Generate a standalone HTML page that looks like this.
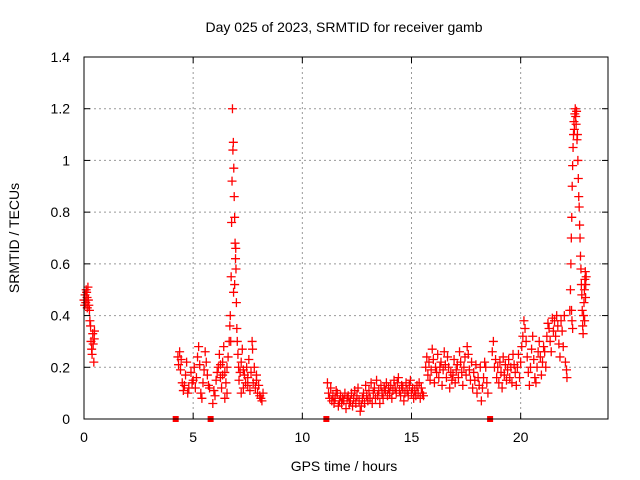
<!DOCTYPE html>
<html><head><meta charset="utf-8"><style>
body{margin:0;background:#fff}
svg{display:block;font-family:"Liberation Sans",sans-serif}
</style></head><body>
<svg id="chart" width="640" height="480" viewBox="0 0 640 480">
<text x="344" y="32" font-size="14" text-anchor="middle">Day 025 of 2023, SRMTID for receiver gamb</text>
<text transform="translate(19,238) rotate(-90)" font-size="14" text-anchor="middle">SRMTID / TECUs</text>
<text x="344" y="471" font-size="14" text-anchor="middle">GPS time / hours</text>
<g id="grid"></g><g id="ticks"></g><g id="marks"></g>
<rect x="84" y="57" width="524" height="362" fill="none" stroke="#000" stroke-width="1"/>
</svg>
<script>
const xTicks=[0,5,10,15,20];
const yTicks=[0,0.2,0.4,0.6,0.8,1,1.2,1.4];
const yTickLabels=["0","0.2","0.4","0.6","0.8","1","1.2","1.4"];
const gapTimes=[4.2,5.8,11.1,18.6];
// [hours, TECU] pairs per pass segment
const segA=[[0,0.46],[0.03,0.44],[0.05,0.48],[0.08,0.45],[0.1,0.5],[0.12,0.49],[0.14,0.47],[0.15,0.43],[0.18,0.51],[0.2,0.46],[0.22,0.44],[0.25,0.42],[0.27,0.38],[0.3,0.36],[0.32,0.3],[0.35,0.27],[0.37,0.25],[0.4,0.33],[0.42,0.29],[0.45,0.22],[0.47,0.31],[0.48,0.34]];
const segB=[[4.3,0.24],[4.33,0.21],[4.38,0.26],[4.42,0.19],[4.45,0.23],[4.5,0.14],[4.55,0.11],[4.6,0.13],[4.65,0.17],[4.7,0.22],[4.75,0.1],[4.8,0.12],[4.9,0.18],[4.95,0.14],[5,0.15],[5.05,0.2],[5.1,0.12],[5.15,0.16],[5.2,0.24],[5.25,0.28],[5.3,0.21],[5.35,0.1],[5.4,0.08],[5.45,0.14],[5.5,0.19],[5.55,0.26],[5.6,0.22],[5.65,0.17],[5.7,0.13],[5.75,0.12],[5.9,0.06],[5.95,0.11],[6,0.09],[6.05,0.15],[6.1,0.18],[6.15,0.2],[6.2,0.25],[6.25,0.16],[6.3,0.12],[6.35,0.22],[6.4,0.28],[6.45,0.18],[6.5,0.14],[6.55,0.1],[6.6,0.24],[6.65,0.3],[6.55,0.2],[6.45,0.08],[6.35,0.17],[6.25,0.21]];
const segSpike=[[6.68,0.36],[6.7,0.4],[6.72,0.3],[6.74,0.55],[6.76,0.76],[6.78,0.92],[6.8,1.2],[6.82,1.04],[6.84,1.07],[6.86,0.97],[6.88,0.86],[6.9,0.78],[6.92,0.68],[6.94,0.62],[6.96,0.58],[6.98,0.45],[7,0.35],[7.02,0.3],[6.95,0.66],[6.9,0.52],[6.85,0.49]];
const segB2=[[7.05,0.25],[7.08,0.2],[7.1,0.15],[7.15,0.18],[7.2,0.22],[7.25,0.27],[7.3,0.12],[7.35,0.17],[7.4,0.14],[7.45,0.2],[7.5,0.16],[7.55,0.23],[7.6,0.11],[7.65,0.18],[7.7,0.3],[7.72,0.27],[7.75,0.14],[7.8,0.2],[7.85,0.12],[7.9,0.17],[7.95,0.1],[8,0.13],[8.05,0.09],[8.1,0.08],[8.15,0.07],[8.2,0.1],[7.3,0.19],[7.5,0.13],[7.9,0.15],[7.2,0.1]];
const segC=[[11.15,0.14],[11.2,0.1],[11.25,0.08],[11.3,0.12],[11.35,0.07],[11.4,0.09],[11.45,0.06],[11.5,0.08],[11.55,0.11],[11.6,0.1],[11.65,0.05],[11.7,0.07],[11.75,0.09],[11.8,0.06],[11.85,0.08],[11.9,0.07],[11.95,0.1],[12,0.04],[12.05,0.08],[12.1,0.09],[12.15,0.06],[12.2,0.07],[12.25,0.1],[12.3,0.05],[12.35,0.08],[12.4,0.11],[12.45,0.06],[12.5,0.09],[12.55,0.12],[12.6,0.07],[12.65,0.03],[12.7,0.05],[12.75,0.08],[12.8,0.1],[12.85,0.06],[12.9,0.13],[12.95,0.09],[13,0.07],[13.05,0.11],[13.1,0.08],[13.15,0.14],[13.2,0.06],[13.25,0.1],[13.3,0.12],[13.35,0.08],[13.4,0.15],[13.45,0.09],[13.5,0.11],[13.55,0.06],[13.6,0.13],[13.65,0.1],[13.7,0.08],[13.75,0.12],[13.8,0.11],[13.85,0.14],[13.9,0.09],[13.95,0.12],[14,0.1],[14.05,0.13],[14.1,0.08],[14.15,0.11],[14.2,0.15],[14.25,0.12],[14.3,0.1],[14.35,0.14],[14.4,0.16],[14.45,0.11],[14.5,0.09],[14.55,0.13],[14.6,0.12],[14.65,0.07],[14.7,0.1],[14.75,0.14],[14.8,0.11],[14.85,0.09],[14.9,0.13],[14.95,0.15],[15,0.1],[15.05,0.12],[15.1,0.08],[15.15,0.11],[15.2,0.09],[15.25,0.13],[15.3,0.1],[15.35,0.14],[15.4,0.08],[15.45,0.12],[15.5,0.1],[15.55,0.09]];
const segD=[[15.65,0.2],[15.7,0.24],[15.75,0.17],[15.8,0.22],[15.85,0.15],[15.9,0.19],[15.95,0.27],[16,0.23],[16.05,0.14],[16.1,0.2],[16.15,0.18],[16.2,0.25],[16.25,0.16],[16.3,0.2],[16.35,0.22],[16.4,0.13],[16.45,0.19],[16.5,0.26],[16.55,0.21],[16.6,0.16],[16.65,0.24],[16.7,0.2],[16.75,0.12],[16.8,0.18],[16.85,0.15],[16.9,0.17],[16.95,0.23],[17,0.14],[17.05,0.19],[17.1,0.21],[17.15,0.16],[17.2,0.26],[17.25,0.22],[17.3,0.18],[17.35,0.13],[17.4,0.2],[17.45,0.24],[17.5,0.17],[17.55,0.28],[17.6,0.25],[17.65,0.19],[17.7,0.15],[17.75,0.22],[17.8,0.12],[17.85,0.18],[17.9,0.15],[17.95,0.21],[18,0.1],[18.05,0.16],[18.1,0.13],[18.15,0.2],[18.2,0.07],[18.25,0.12],[18.3,0.16],[18.35,0.22],[18.4,0.2],[18.45,0.14],[18.5,0.1]];
const segE=[[18.7,0.26],[18.75,0.3],[18.8,0.2],[18.85,0.23],[18.9,0.16],[18.95,0.2],[19,0.14],[19.05,0.22],[19.1,0.18],[19.15,0.12],[19.2,0.24],[19.25,0.17],[19.3,0.21],[19.35,0.15],[19.4,0.19],[19.45,0.23],[19.5,0.16],[19.55,0.2],[19.6,0.14],[19.65,0.25],[19.7,0.21],[19.75,0.18],[19.8,0.13],[19.85,0.2],[19.9,0.25],[19.95,0.16],[20,0.22],[20.05,0.28],[20.1,0.32],[20.15,0.38],[20.2,0.35],[20.25,0.3],[20.3,0.24],[20.35,0.18],[20.4,0.13],[20.45,0.2],[20.5,0.27],[20.55,0.32],[20.6,0.23],[20.65,0.16],[20.7,0.14],[20.75,0.2],[20.8,0.26],[20.85,0.3],[20.9,0.24],[20.95,0.17],[21,0.22],[21.05,0.28],[21.1,0.26],[21.15,0.2],[21.2,0.32],[21.25,0.37],[21.3,0.35],[21.35,0.3],[21.4,0.26],[21.45,0.39],[21.5,0.34],[21.55,0.38],[21.6,0.32],[21.65,0.4],[21.7,0.36],[21.75,0.29],[21.8,0.24],[21.85,0.38],[21.9,0.34],[21.95,0.28],[22,0.4],[22.05,0.22],[22.1,0.19],[22.12,0.16]];
const segF=[[22.25,0.42],[22.28,0.5],[22.3,0.6],[22.32,0.7],[22.34,0.78],[22.36,0.9],[22.38,0.98],[22.4,1.05],[22.42,1.1],[22.44,1.15],[22.46,1.12],[22.48,1.18],[22.5,1.2],[22.52,1.17],[22.54,1.14],[22.56,1.19],[22.58,1.08],[22.6,1.1],[22.62,1.0],[22.64,0.93],[22.66,0.86],[22.68,0.82],[22.7,0.75],[22.72,0.7],[22.74,0.63],[22.76,0.58],[22.78,0.52],[22.8,0.48],[22.82,0.42],[22.84,0.36],[22.86,0.33],[22.88,0.4],[22.9,0.45],[22.92,0.5],[22.94,0.54],[22.96,0.57],[22.98,0.52],[23,0.55],[22.93,0.38],[22.97,0.47],[22.35,0.38],[22.33,0.42],[22.38,0.35]];
const segments=[segA,segB,segSpike,segB2,segC,segD,segE,segF];
const ns="http://www.w3.org/2000/svg";
const X0=84,X1=608,Y0=419,Y1=57;
function xs(t){return X0+(t/24)*(X1-X0);}
function ys(v){return Y0-(v/1.4)*(Y0-Y1);}
const grid=document.getElementById('grid'),ticks=document.getElementById('ticks'),marks=document.getElementById('marks');
function mk(tag,attrs,parent){const e=document.createElementNS(ns,tag);for(const k in attrs)e.setAttribute(k,attrs[k]);parent.appendChild(e);return e;}
xTicks.forEach(t=>{
  if(t>0){const g=mk('line',{x1:xs(t),x2:xs(t),y1:Y0,y2:Y1,stroke:'#999','stroke-dasharray':'2,3'},grid);
  
  }
  mk('line',{x1:xs(t),x2:xs(t),y1:Y0,y2:Y0-6,stroke:'#000'},ticks);
  mk('line',{x1:xs(t),x2:xs(t),y1:Y1,y2:Y1+6,stroke:'#000'},ticks);
  const l=mk('text',{x:xs(t),y:Y0+23,'font-size':14,'text-anchor':'middle'},ticks);
  l.textContent=String(t);
  
  
});
yTicks.forEach((v,i)=>{
  if(v>0&&v<1.4){const g=mk('line',{x1:X0,x2:X1,y1:ys(v),y2:ys(v),stroke:'#999','stroke-dasharray':'2,3'},grid);
  
  }
  mk('line',{x1:X0,x2:X0+6,y1:ys(v),y2:ys(v),stroke:'#000'},ticks);
  mk('line',{x1:X1,x2:X1-6,y1:ys(v),y2:ys(v),stroke:'#000'},ticks);
  const l=mk('text',{x:X0-14,y:ys(v)+5,'font-size':14,'text-anchor':'end'},ticks);
  l.textContent=yTickLabels[i];
  
  
});
segments.forEach(seg=>seg.forEach(pt=>{
  const x=xs(pt[0]),y=ys(pt[1]);
  const p=mk('path',{d:`M${x-4.5},${y}H${x+4.5}M${x},${y-4.5}V${y+4.5}`,stroke:'#f00','stroke-width':1.3,fill:'none'},marks);
  
  
}));
gapTimes.forEach(t=>{
  const r=mk('rect',{x:xs(t)-3,y:Y0-3,width:6,height:6,fill:'#f00'},marks);
  
  
});
</script>
</body></html>
